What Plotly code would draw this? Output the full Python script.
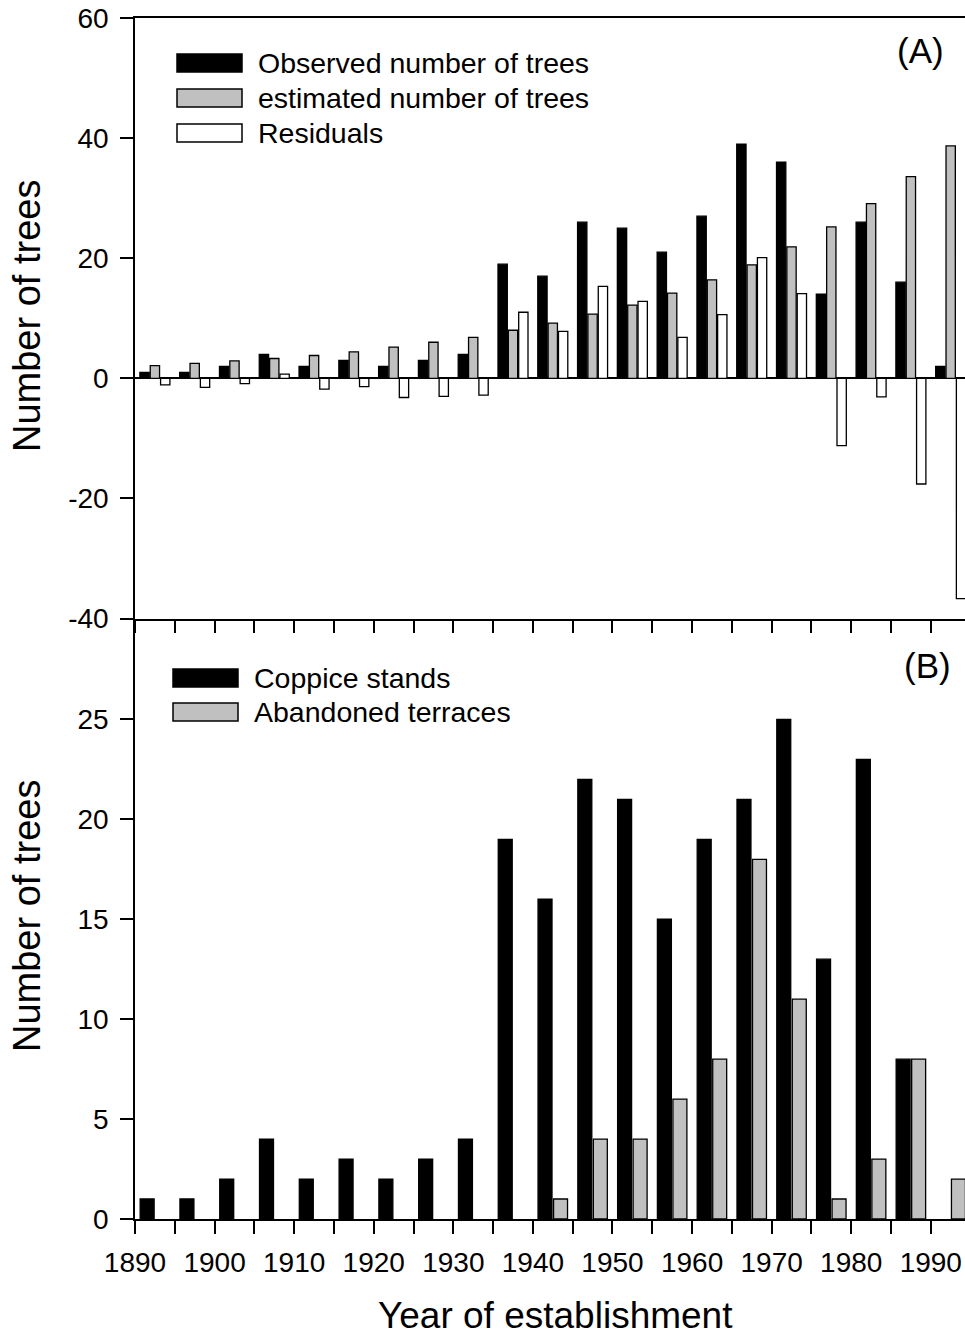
import plotly.graph_objects as go

# Five-year establishment classes (start year of each class)
years = [1890, 1895, 1900, 1905, 1910, 1915, 1920, 1925, 1930, 1935, 1940,
         1945, 1950, 1955, 1960, 1965, 1970, 1975, 1980, 1985, 1990]
class_width = 5

# Panel A
observed = [1, 1, 2, 4, 2, 3, 2, 3, 4, 19, 17, 26, 25, 21, 27, 39, 36, 14, 26, 16, 2]
estimated = [2.1, 2.5, 2.9, 3.3, 3.8, 4.4, 5.2, 6.0, 6.8, 8.0, 9.2, 10.7, 12.2,
             14.2, 16.4, 18.9, 21.9, 25.2, 29.1, 33.6, 38.7]
residuals = [-1.1, -1.5, -0.9, 0.7, -1.8, -1.4, -3.2, -3.0, -2.8, 11.0, 7.8, 15.3,
             12.8, 6.8, 10.6, 20.1, 14.1, -11.2, -3.1, -17.6, -36.7]

# Panel B
coppice = [1, 1, 2, 4, 2, 3, 2, 3, 4, 19, 16, 22, 21, 15, 19, 21, 25, 13, 23, 8, 0]
terraces = [0, 0, 0, 0, 0, 0, 0, 0, 0, 0, 1, 4, 4, 6, 8, 18, 11, 1, 3, 8, 2]

y_ticks_a = [-40, -20, 0, 20, 40, 60]
y_ticks_b = [0, 5, 10, 15, 20, 25]
x_ticks = [1890, 1900, 1910, 1920, 1930, 1940, 1950, 1960, 1970, 1980, 1990]

x_mid = [y + class_width / 2 for y in years]

W, H = 965, 1339
ML, MR, MT, MB = 135, 0, 18, 120
PW, PH = W - ML - MR, H - MT - MB
FONT = "Arial, Liberation Sans, sans-serif"
BLACK, GREY, WHITE = "#000000", "#c0c0c0", "#ffffff"


def px(x):
    return (x - ML) / PW


def py(y):
    return (H - MB - y) / PH


def nonzero(values):
    # empty classes get no bar (and no outline) at all
    return [v if v != 0 else None for v in values]


def labels(vals):
    return [str(v).replace("\u2212", "-") for v in vals]


line = dict(color=BLACK, width=1.3)
fig = go.Figure()

fig.add_trace(go.Bar(x=x_mid, y=observed, marker=dict(color=BLACK, line=line),
                     xaxis="x", yaxis="y", name="Observed number of trees"))
fig.add_trace(go.Bar(x=x_mid, y=estimated, marker=dict(color=GREY, line=line),
                     xaxis="x", yaxis="y", name="estimated number of trees"))
fig.add_trace(go.Bar(x=x_mid, y=residuals, marker=dict(color=WHITE, line=line),
                     xaxis="x", yaxis="y", name="Residuals"))

fig.add_trace(go.Bar(x=x_mid, y=nonzero(coppice), marker=dict(color=BLACK, line=line),
                     xaxis="x2", yaxis="y2", name="Coppice stands"))
fig.add_trace(go.Bar(x=x_mid, y=nonzero(terraces), marker=dict(color=GREY, line=line),
                     xaxis="x2", yaxis="y2", name="Abandoned terraces"))

x_range = [1890, 1994.3]
common_x = dict(range=x_range, tickvals=x_ticks, ticktext=labels(x_ticks),
                ticks="outside", ticklen=13, ticklabelstandoff=5,
                tickwidth=1.5, tickcolor=BLACK, showline=True, linecolor=BLACK,
                linewidth=1.5, showgrid=False, zeroline=False,
                minor=dict(dtick=5, tick0=1890, ticks="outside", ticklen=13,
                           tickwidth=1.5, tickcolor=BLACK, showgrid=False),
                tickfont=dict(family=FONT, size=28, color=BLACK))
common_y = dict(ticks="outside", ticklen=13, tickwidth=1.5, tickcolor=BLACK,
                ticklabelstandoff=6,
                showline=True, linecolor=BLACK, linewidth=1.5, showgrid=False,
                tickfont=dict(family=FONT, size=28, color=BLACK))

fig.update_layout(
    width=W, height=H,
    margin=dict(l=ML, r=MR, t=MT, b=MB, pad=0),
    paper_bgcolor="white", plot_bgcolor="white",
    barmode="group", bargap=0.22, bargroupgap=0.1,
    showlegend=False,
    font=dict(family=FONT, color=BLACK),
    xaxis=dict(common_x, anchor="y", domain=[0, 1], showticklabels=False,
               mirror=True),
    yaxis=dict(common_y, anchor="x", domain=[0.5, 1], range=[-40, 60],
               tickvals=y_ticks_a, ticktext=labels(y_ticks_a),
               zeroline=True, zerolinecolor=BLACK, zerolinewidth=1.5),
    xaxis2=dict(common_x, anchor="y2", domain=[0, 1], matches="x"),
    yaxis2=dict(common_y, anchor="x2", domain=[0, 0.5], range=[0, 30.05],
                tickvals=y_ticks_b, ticktext=labels(y_ticks_b), zeroline=False),
)

# Hand-drawn legends with wide swatches
shapes = []
annotations = []


def legend_row(x0, yc, fill, label):
    shapes.append(dict(type="rect", xref="paper", yref="paper",
                       x0=px(x0), x1=px(x0 + 65), y0=py(yc + 9), y1=py(yc - 9),
                       fillcolor=fill, line=dict(color=BLACK, width=1.5)))
    annotations.append(dict(xref="paper", yref="paper", x=px(x0 + 79), y=py(yc),
                            xanchor="left", yanchor="middle", showarrow=False,
                            text=label, font=dict(family=FONT, size=28.5, color=BLACK)))


legend_row(177, 63, BLACK, "Observed number of trees")
legend_row(177, 98, GREY, "estimated number of trees")
legend_row(177, 133, WHITE, "Residuals")
legend_row(173, 678, BLACK, "Coppice stands")
legend_row(173, 712, GREY, "Abandoned terraces")

# Panel letters
annotations.append(dict(xref="paper", yref="paper", x=px(920), y=py(50),
                        xanchor="center", yanchor="middle", showarrow=False,
                        text="(A)", font=dict(family=FONT, size=35, color=BLACK)))
annotations.append(dict(xref="paper", yref="paper", x=px(927), y=py(665),
                        xanchor="center", yanchor="middle", showarrow=False,
                        text="(B)", font=dict(family=FONT, size=35, color=BLACK)))

# Axis titles
for yc in (316, 916):
    annotations.append(dict(xref="paper", yref="paper", x=px(27), y=py(yc),
                            xanchor="center", yanchor="middle", showarrow=False,
                            textangle=-90, text="Number of trees",
                            font=dict(family=FONT, size=38, color=BLACK)))
annotations.append(dict(xref="paper", yref="paper", x=px(555), y=py(1315),
                        xanchor="center", yanchor="middle", showarrow=False,
                        text="Year of establishment",
                        font=dict(family=FONT, size=37, color=BLACK)))

fig.update_layout(shapes=shapes, annotations=annotations)

fig.write_html("out.html")
